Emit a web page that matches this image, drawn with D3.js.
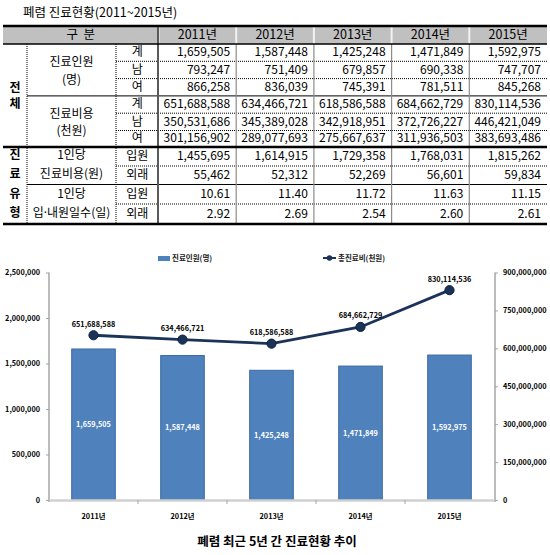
<!DOCTYPE html>
<html><head><meta charset="utf-8">
<script src="https://cdn.jsdelivr.net/npm/d3@7"></script>
<style>
body{margin:0;background:#fff;}
svg{display:block;font-family:"Noto Sans CJK KR","Noto Sans",sans-serif;}
</style></head>
<body>
<svg id="c" width="550" height="555"></svg>
<script>
// ---------- data ----------
const years = ['2011년','2012년','2013년','2014년','2015년'];
const patients = [1659505,1587448,1425248,1471849,1592975];
const patientsMale = [793247,751409,679857,690338,747707];
const patientsFemale = [866258,836039,745391,781511,845268];
const costs = [651688588,634466721,618586588,684662729,830114536];
const costsMale = [350531686,345389028,342918951,372726227,446421049];
const costsFemale = [301156902,289077693,275667637,311936503,383693486];
const costPerInpatient = [1455695,1614915,1729358,1768031,1815262];
const costPerOutpatient = [55462,52312,52269,56601,59834];
const daysInpatient = [10.61,11.40,11.72,11.63,11.15];
const daysOutpatient = [2.92,2.69,2.54,2.60,2.61];
const leftTicks = [0,500000,1000000,1500000,2000000,2500000];
const rightTicks = [0,150000000,300000000,450000000,600000000,750000000,900000000];
const tableTitle = '폐렴 진료현황(2011~2015년)';
const chartCaption = '폐렴 최근 5년 간 진료현황 추이';
const barSeriesName = '진료인원(명)';
const lineSeriesName = '총진료비(천원)';

const svg = d3.select('#c');
const fmt = d3.format(',');
const fmt2 = d3.format('.2f');

// ---------- table ----------
svg.append('text').attr('x',23).attr('y',17).attr('font-size',12.5).attr('fill','#000').text(tableTitle);

const T = {left:3, c1:27, c2:116, c3:158.5, right:547, top:26, head:44};
const rowB = [44,61.3,78.6,95.9,113.2,130.5,147,166,184.5,204,224];
const colX = d3.scaleBand().domain(years).range([T.c3, T.right]);

const g = svg.append('g');
// header
g.append('rect').attr('x',T.left).attr('y',T.top).attr('width',T.right-T.left).attr('height',T.head-T.top).attr('fill','#c0c0c0');
[T.c3].concat(years.slice(1).map(y=>colX(y))).forEach(x=>{
  g.append('line').attr('x1',x).attr('x2',x).attr('y1',T.top).attr('y2',T.head).attr('stroke','#f2f2f2').attr('stroke-width',2);
});
g.append('text').attr('x',(T.left+T.c3)/2).attr('y',35).attr('dy','0.35em').attr('text-anchor','middle').attr('font-size',12.5).attr('xml:space','preserve').text('구  분');
years.forEach(y=>{
  g.append('text').attr('x',colX(y)+colX.bandwidth()/2).attr('y',35).attr('dy','0.35em').attr('text-anchor','middle').attr('font-size',12.5).text(y);
});

// body rows
const rows = [
  {sub:'계', vals:patients, f:fmt},
  {sub:'남', vals:patientsMale, f:fmt},
  {sub:'여', vals:patientsFemale, f:fmt},
  {sub:'계', vals:costs, f:fmt},
  {sub:'남', vals:costsMale, f:fmt},
  {sub:'여', vals:costsFemale, f:fmt},
  {sub:'입원', vals:costPerInpatient, f:fmt},
  {sub:'외래', vals:costPerOutpatient, f:fmt},
  {sub:'입원', vals:daysInpatient, f:fmt2},
  {sub:'외래', vals:daysOutpatient, f:fmt2}
];
rows.forEach((r,i)=>{
  const cy = (rowB[i]+rowB[i+1])/2 - 0.5;
  g.append('text').attr('x',(T.c2+T.c3)/2).attr('y',cy).attr('dy','0.35em').attr('text-anchor','middle').attr('font-size',12).text(r.sub);
  r.vals.forEach((v,j)=>{
    g.append('text').attr('x',colX(years[j])+colX.bandwidth()-6).attr('y',cy).attr('dy','0.35em').attr('text-anchor','end').attr('font-size',12).text(r.f(v));
  });
});
// group labels
const groups = [
  {lines:[['진료인원'],['(명)']], y:[62,80]},
  {lines:[['진료비용'],['(천원)']], y:[114,131]},
  {lines:[['1인당'],['진료비용(원)']], y:[155,174]},
  {lines:[['1인당'],['입','·','내원일수(일)']], y:[194,213]}
];
groups.forEach(gr=>gr.lines.forEach((parts,k)=>{
  const t = g.append('text').attr('x',(T.c1+T.c2)/2).attr('y',gr.y[k]).attr('dy','0.35em').attr('text-anchor','middle').attr('font-size',12);
  parts.forEach(p=>{
    const s = t.append('tspan').text(p);
    if(p==='·') s.attr('font-family','"Noto Sans",sans-serif');
  });
}));
[['전',88],['체',104],['진',155],['료',174],['유',194],['형',213]].forEach(([t,y])=>{
  g.append('text').attr('x',15).attr('y',y).attr('dy','0.35em').attr('text-anchor','middle').attr('font-size',12).attr('font-weight','bold').text(t);
});

// lines
function hl(x1,x2,y,st,w,dash){const l=g.append('line').attr('x1',x1).attr('x2',x2).attr('y1',y).attr('y2',y).attr('stroke',st).attr('stroke-width',w); if(dash) l.attr('stroke-dasharray',dash);}
function vl(x,y1,y2,st,w,dash){const l=g.append('line').attr('x1',x).attr('x2',x).attr('y1',y1).attr('y2',y2).attr('stroke',st).attr('stroke-width',w); if(dash) l.attr('stroke-dasharray',dash);}
[1,2,4,5,7,9].forEach(i=>hl(T.c2,T.right,rowB[i],'#000',1,'1,1'));
hl(T.c1,T.right,rowB[3],'#000',1);
hl(T.c1,T.right,rowB[8],'#000',1);
vl(T.c1,T.head,224,'#000',1,'1,1');
vl(T.c2,T.head,224,'#000',1,'1,1');
years.slice(1).forEach(y=>vl(colX(y),T.head,224,'#8c8c8c',1.2));
vl(T.c3-0.5,T.top,224,'#5a5a5a',2);
hl(T.left,T.right,T.top,'#000',2.5);
hl(T.left,T.right,T.head,'#000',1.5);
hl(T.left,T.right,rowB[6],'#000',2.5);
hl(T.left,T.right,224,'#000',2.5);

// ---------- chart ----------
const ch = svg.append('g').attr('font-weight','bold');
const x = d3.scaleBand().domain(years).range([49,494]);
const yL = d3.scaleLinear().domain([0,2500000]).range([500,272.5]);
const yR = d3.scaleLinear().domain([0,900000000]).range([500,272.5]);
const barW = x.bandwidth()*0.49;

const ax = ch.append('g').attr('transform','translate(49,0)')
  .call(d3.axisLeft(yL).tickValues(leftTicks).tickFormat(fmt).tickSize(3).tickPadding(6).tickSizeOuter(0));
ax.selectAll('text').attr('font-size',7.3).attr('font-family','"Noto Sans CJK KR",sans-serif').attr('fill','#000');
ax.selectAll('line').attr('stroke','#a6a6a6');
ax.select('.domain').attr('stroke','#a6a6a6').attr('stroke-width',1.5).attr('d','M0,272.5V502');
const axR = ch.append('g').attr('transform','translate(495,0)')
  .call(d3.axisRight(yR).tickValues(rightTicks).tickFormat(fmt).tickSize(3).tickPadding(5).tickSizeOuter(0));
axR.selectAll('text').attr('font-size',7.3).attr('font-family','"Noto Sans CJK KR",sans-serif').attr('fill','#000');
axR.selectAll('line').attr('stroke','#a6a6a6');
axR.select('.domain').attr('stroke','#a6a6a6').attr('stroke-width',1.5).attr('d','M0,272.5V502');

ch.selectAll('rect.bar').data(years).enter().append('rect').attr('class','bar')
  .attr('x',d=>x(d)+(x.bandwidth()-barW)/2).attr('width',barW)
  .attr('y',(d,i)=>yL(patients[i])).attr('height',(d,i)=>yL(0)-yL(patients[i]))
  .attr('fill','#4f81bd').attr('stroke','#3b6ba5').attr('stroke-width',1);
ch.selectAll('text.bl').data(years).enter().append('text').attr('class','bl')
  .attr('x',d=>x(d)+x.bandwidth()/2).attr('y',(d,i)=>(yL(patients[i])+yL(0))/2).attr('dy','0.35em')
  .attr('text-anchor','middle').attr('font-size',7.3).attr('fill','#fff').text((d,i)=>fmt(patients[i]));

const axX = ch.append('g').attr('transform','translate(0,500)')
  .call(d3.axisBottom(x).tickValues([]).tickSizeOuter(0));
axX.select('.domain').attr('stroke','#d0d0d0').attr('stroke-width',2.5);
const xb = years.map(d=>x(d)).concat([x(years[4])+x.bandwidth()]);
xb.slice(1,5).forEach(b=>ch.append('line').attr('x1',b).attr('x2',b).attr('y1',500).attr('y2',504).attr('stroke','#a6a6a6'));
ch.selectAll('text.xl').data(years).enter().append('text').attr('class','xl')
  .attr('x',d=>x(d)+x.bandwidth()/2).attr('y',516).attr('dy','0.35em').attr('text-anchor','middle').attr('font-size',7.3).text(d=>d);

const line = d3.line().x((d,i)=>x(years[i])+x.bandwidth()/2).y(d=>yR(d));
ch.append('path').datum(costs).attr('d',line).attr('fill','none').attr('stroke','#1b3359').attr('stroke-width',2.8);
ch.selectAll('circle.pt').data(costs).enter().append('circle').attr('class','pt')
  .attr('cx',(d,i)=>x(years[i])+x.bandwidth()/2).attr('cy',d=>yR(d)).attr('r',4.6).attr('fill','#1b3359').attr('stroke','#0f2240');
ch.selectAll('text.pl').data(costs).enter().append('text').attr('class','pl')
  .attr('x',(d,i)=>x(years[i])+x.bandwidth()/2).attr('y',d=>yR(d)-11).attr('dy','0.35em')
  .attr('text-anchor','middle').attr('font-size',7.3).text(d=>fmt(d));

ch.append('rect').attr('x',158).attr('y',256).attr('width',12).attr('height',5).attr('fill','#4f81bd');
ch.append('text').attr('x',172).attr('y',258.5).attr('dy','0.35em').attr('font-size',7.5).attr('fill','#222').text(barSeriesName);
ch.append('line').attr('x1',323).attr('x2',336).attr('y1',258).attr('y2',258).attr('stroke','#1b3359').attr('stroke-width',2);
ch.append('circle').attr('cx',329.5).attr('cy',258).attr('r',2.8).attr('fill','#1b3359');
ch.append('text').attr('x',338).attr('y',258.5).attr('dy','0.35em').attr('font-size',7.5).attr('fill','#222').text(lineSeriesName);

svg.append('text').attr('x',277).attr('y',542).attr('dy','0.35em').attr('text-anchor','middle')
  .attr('font-size',12.5).attr('font-weight','bold').text(chartCaption);
</script>
</body></html>
